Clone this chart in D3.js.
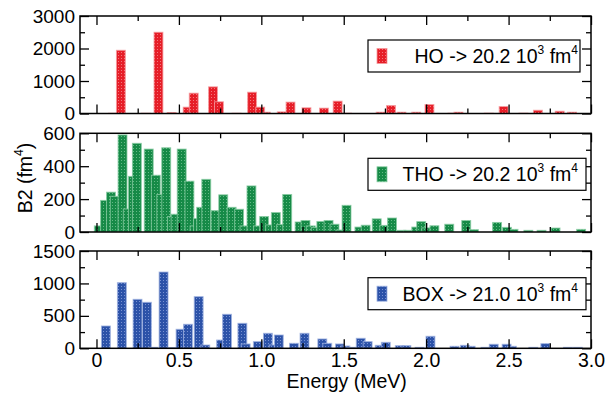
<!DOCTYPE html>
<html><head><meta charset="utf-8">
<script src="https://cdn.jsdelivr.net/npm/d3@7/dist/d3.min.js"></script>
<style>
body{margin:0;background:#fff;}
text{font-family:"Liberation Sans",Arial,sans-serif;fill:#000;}
</style></head>
<body><svg id="c" width="606" height="397"></svg>
<script>
// ---- data ----
const seriesNames = ["HO", "THO", "BOX"];
const legendTotals = ["20.2", "20.2", "21.0"];
const hoEnergy = [0.10,0.148,0.30,0.376,0.456,0.553,0.59,0.707,0.743,0.85,0.944,0.993,1.027,1.124,1.177,1.274,1.38,1.463,1.52,1.724,1.787,1.85,1.94,2.02,2.16,2.196,2.38,2.47,2.59,2.678,2.81,2.885];
const hoB2     = [8,1945,8,2500,30,195,625,820,360,8,655,195,40,50,350,175,165,380,10,40,245,40,40,275,10,40,10,215,10,100,70,40];
const thoEnergy = [0.014,0.052,0.088,0.111,0.158,0.19,0.221,0.245,0.317,0.36,0.393,0.423,0.458,0.48,0.517,0.564,0.595,0.616,0.635,0.666,0.722,0.769,0.82,0.865,0.898,0.94,0.98,1.017,1.053,1.088,1.12,1.157,1.232,1.268,1.30,1.33,1.364,1.408,1.444,1.48,1.517,1.595,1.633,1.70,1.746,1.793,1.85,1.89,1.94,1.97,2.0,2.05,2.14,2.243,2.29,2.43,2.49,2.53,2.62,2.70,2.785,2.94];
const thoB2     = [37,192,242,217,590,140,338,539,504,345,228,512,94,108,504,309,37,82,150,320,130,226,150,138,37,280,37,94,43,118,45,228,61,70,37,27,64,70,47,12,162,30,41,80,40,85,10,10,30,63,25,38,47,70,14,58,28,16,10,10,24,16];
const boxEnergy = [0.057,0.154,0.249,0.306,0.345,0.407,0.46,0.51,0.555,0.62,0.66,0.756,0.792,0.885,0.905,0.979,1.04,1.075,1.106,1.198,1.262,1.37,1.40,1.477,1.51,1.545,1.603,1.645,1.718,1.755,1.84,1.88,1.96,2.026,2.172,2.235,2.27,2.36,2.41,2.488,2.52,2.65,2.723,2.86,2.92];
const boxB2     = [344,1012,755,709,15,1176,10,293,370,796,51,128,524,385,67,103,231,51,205,77,231,144,77,67,36,15,154,103,46,92,41,41,15,185,31,46,31,15,62,62,31,15,72,15,15];
const xMajorTicks = [0,0.5,1.0,1.5,2.0,2.5,3.0];
const xMinorTicks = [0.25,0.75,1.25,1.75,2.25,2.75];
const yMajorTicks = [[0,1000,2000,3000],[0,200,400,600],[0,500,1000,1500]];
const yMinorTicks = [[500,1500,2500],[100,300,500],[250,750,1250]];
const yMax = [3000,600,1500];
const xLabel = "Energy (MeV)";

// ---- layout ----
const svg = d3.select("#c");
const L = 80, R = 591;
const panels = [{top:16,bot:113.5},{top:133.3,bot:232},{top:251,bot:348.3}];
const colors = [{base:"#e61e28",light:"#f2777c",edge:"#f59a9d"},
                {base:"#168a47",light:"#63b985",edge:"#86cba0"},
                {base:"#2c52a8",light:"#7892d2",edge:"#9fb2e0"}];
const energies=[hoEnergy,thoEnergy,boxEnergy], vals=[hoB2,thoB2,boxB2];
const x = d3.scaleLinear().domain([-0.1,3.0]).range([L,R]);
const barW = 0.054;

const defs = svg.append("defs");
colors.forEach((c,i)=>{
  const p = defs.append("pattern").attr("id","pat"+i).attr("patternUnits","userSpaceOnUse")
    .attr("width",3).attr("height",3);
  p.append("rect").attr("width",3).attr("height",3).attr("fill",c.base);
  p.append("rect").attr("x",1).attr("y",1).attr("width",1).attr("height",1).attr("fill",c.light);
});

panels.forEach((pn,i)=>{
  const y = d3.scaleLinear().domain([0,yMax[i]]).range([pn.bot,pn.top]);
  const cid="clip"+i;
  defs.append("clipPath").attr("id",cid).append("rect")
    .attr("x",L).attr("y",pn.top).attr("width",R-L).attr("height",pn.bot-pn.top);
  const g = svg.append("g").attr("clip-path",`url(#${cid})`);
  g.selectAll("rect").data(energies[i].map((e,k)=>({e,v:vals[i][k]}))).join("rect")
    .attr("x",d=>x(d.e-barW/2)).attr("width",x(barW)-x(0))
    .attr("y",d=>y(d.v)).attr("height",d=>y(0)-y(d.v))
    .attr("fill",`url(#pat${i})`).attr("stroke",colors[i].edge).attr("stroke-opacity",0.8).attr("stroke-width",1);

  const ax = (gen, tx, ty)=> svg.append("g").attr("transform",`translate(${tx},${ty})`).call(gen);
  const style = sel=>{sel.select(".domain").remove(); sel.selectAll("line").attr("stroke","#000").attr("stroke-width",1.3);};
  const xb = ax(d3.axisBottom(x).tickValues(xMajorTicks).tickSize(-9).tickPadding(i===2?5:0)
      .tickFormat(d=> i===2 ? (d===0?"0":d3.format(".1f")(d)) : ""),0,pn.bot);
  style(xb); xb.selectAll("text").attr("font-size",19.5).attr("font-family","Liberation Sans, Arial");
  style(ax(d3.axisBottom(x).tickValues(xMinorTicks).tickSize(-5).tickFormat(""),0,pn.bot));
  style(ax(d3.axisTop(x).tickValues(xMajorTicks).tickSize(-9).tickFormat(""),0,pn.top));
  style(ax(d3.axisTop(x).tickValues(xMinorTicks).tickSize(-5).tickFormat(""),0,pn.top));
  const yl = ax(d3.axisLeft(y).tickValues(yMajorTicks[i]).tickSize(-9).tickPadding(5).tickFormat(d3.format("d")),L,0);
  style(yl); yl.selectAll("text").attr("font-size",19).attr("font-family","Liberation Sans, Arial");
  style(ax(d3.axisLeft(y).tickValues(yMinorTicks[i]).tickSize(-5).tickFormat(""),L,0));
  style(ax(d3.axisRight(y).tickValues(yMajorTicks[i]).tickSize(-9).tickFormat(""),R,0));
  style(ax(d3.axisRight(y).tickValues(yMinorTicks[i]).tickSize(-5).tickFormat(""),R,0));
  svg.append("rect").attr("x",L).attr("y",pn.top).attr("width",R-L).attr("height",pn.bot-pn.top)
    .attr("fill","none").attr("stroke","#000").attr("stroke-width",1.5);

  // legend
  const lgTop = [40,158.3,277.7][i], lgH = 32;
  const lg = svg.append("g");
  lg.append("rect").attr("x",368).attr("y",lgTop).attr("width",i===0?212:218).attr("height",lgH)
    .attr("fill","#fff").attr("stroke","#000").attr("stroke-width",1.2);
  lg.append("rect").attr("x",377).attr("y",lgTop+lgH/2-7.5).attr("width",10).attr("height",15)
    .attr("fill",`url(#pat${i})`).attr("stroke",colors[i].edge).attr("stroke-width",0.8);
  const t = lg.append("text").attr("x",578).attr("y",lgTop+lgH/2+7).attr("text-anchor","end").attr("font-size",19.5);
  t.append("tspan").text(`${seriesNames[i]} -> ${legendTotals[i]} 10`);
  t.append("tspan").attr("font-size",12).attr("dy",-9).text("3");
  t.append("tspan").attr("dy",9).text(" fm");
  t.append("tspan").attr("font-size",12).attr("dy",-9).text("4");
});

svg.append("text").attr("x",(x(0)+x(3))/2+3).attr("y",388).attr("text-anchor","middle").attr("font-size",19.5).text(xLabel);
const yt = svg.append("text").attr("transform","translate(32,178) rotate(-90)").attr("text-anchor","middle").attr("font-size",19.5);
yt.append("tspan").text("B2 (fm");
yt.append("tspan").attr("font-size",12).attr("dy",-9).text("4");
yt.append("tspan").attr("dy",9).text(")");
</script></body></html>
